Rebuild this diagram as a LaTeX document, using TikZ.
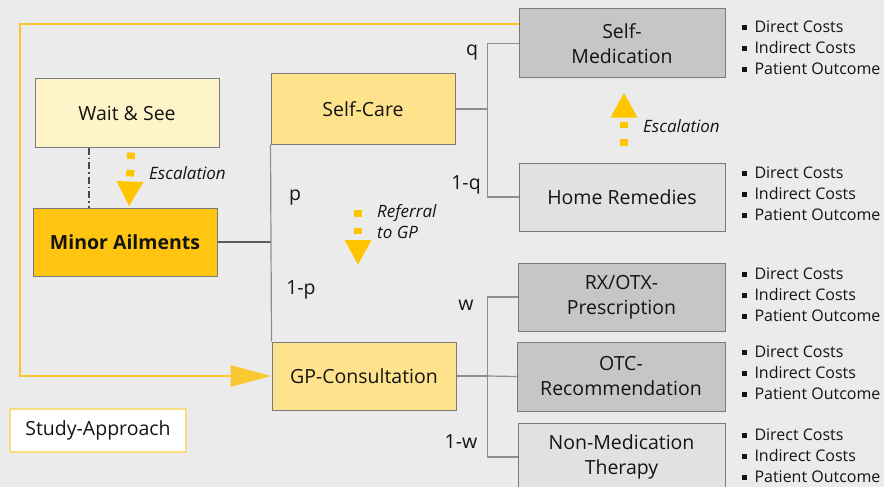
\documentclass[tikz,border=0pt]{standalone}
\usepackage{fontspec}
\setmainfont{Open Sans}
\usepackage{xcolor}
\usetikzlibrary{arrows.meta}

\definecolor{bggray}{HTML}{EBEBEB}
\definecolor{boxline}{HTML}{7A7A7A}
\definecolor{treeline}{HTML}{8E8E8E}
\definecolor{waitfill}{HTML}{FFF3C9}
\definecolor{minorfill}{HTML}{FFC510}
\definecolor{carefill}{HTML}{FFE38C}
\definecolor{darkfill}{HTML}{C6C6C6}
\definecolor{lightfill}{HTML}{E1E1E1}
\definecolor{studyline}{HTML}{F7C832}
\definecolor{studyframe}{HTML}{F8DC80}
\definecolor{escyellow}{HTML}{FFC600}
\definecolor{inktext}{HTML}{141414}

\newcommand{\sqbul}{\rule[0.2em]{0.27em}{0.27em}\hspace{0.5em}}
\newcommand{\costlist}{\sqbul Direct Costs\\\sqbul Indirect Costs\\\sqbul Patient Outcome}

\begin{document}
\begin{tikzpicture}[x=1pt, y=-1pt, text=inktext,
    box/.style={draw=boxline, line width=1pt, inner sep=0pt, align=center,
        minimum width=184pt, minimum height=68pt, font=\fontsize{19.5}{25}\selectfont},
    outcome/.style={box, minimum width=207pt},
    costs/.style={anchor=west, align=left, inner sep=0pt, font=\fontsize{16}{21}\selectfont},
    prob/.style={inner sep=0pt, font=\fontsize{19.5}{24}\selectfont},
    tree/.style={draw=treeline, line width=1.2pt},
    esc/.style={draw=escyellow, line width=8pt, dash pattern=on 6.5pt off 11pt,
        -{Triangle[length=25pt, width=25pt]}},
    esclabel/.style={inner sep=0pt, align=left, font=\fontsize{17}{21}\selectfont\itshape}]

    \fill[bggray] (0,0) rectangle (884,487);
    \useasboundingbox (0,0) rectangle (884,487);

    % decision nodes
    \node[box, fill=waitfill] (wait) at (127,113) {Wait \& See};
    \node[box, fill=minorfill, font=\fontsize{19.5}{25}\selectfont\bfseries] (minor) at (125,242) {Minor Ailments};
    \node[box, fill=carefill, minimum height=70pt] (selfcare) at (363,109) {Self-Care};
    \node[box, fill=carefill] (gp) at (364,376) {GP-Consultation};

    % outcomes
    \node[outcome, fill=darkfill, minimum width=206pt, minimum height=69pt] (selfmed) at (622,43.5) {Self-\\Medication};
    \node[outcome, fill=lightfill, minimum width=206pt] (home) at (622,197) {Home Remedies};
    \node[outcome, fill=darkfill] (rx) at (621.5,297) {RX/OTX-\\Prescription};
    \node[outcome, fill=darkfill, minimum width=208pt, minimum height=69pt] (otc) at (621,376.5) {OTC-\\Recommendation};
    \node[outcome, fill=lightfill] (nonmed) at (621.5,457) {Non-Medication\\Therapy};

    \node[costs] (selfmed-costs) at (742,48) {\costlist};
    \node[costs] (home-costs) at (742,194) {\costlist};
    \node[costs] (rx-costs) at (742,295) {\costlist};
    \node[costs] (otc-costs) at (742,373) {\costlist};
    \node[costs] (nonmed-costs) at (742,456) {\costlist};

    \node[box, fill=white, draw=studyframe, line width=1.5pt, minimum width=176pt, minimum height=43pt] (study) at (98,430.5) {Study-Approach};

    % tree
    \draw[draw=boxline!75!black, line width=1.5pt] (minor.east) -- (minor.east -| selfcare.west);
    \draw[tree] (selfcare.south west) -- (gp.north west);
    \draw[tree] (selfcare.east) -- ++(32,0) coordinate (care-fork);
    \draw[tree] (selfmed.west) -| (care-fork) |- (home.west);
    \draw[tree] (gp.east) -- ++(31,0) coordinate (gp-fork);
    \draw[tree] (rx.west) -| (gp-fork) |- (nonmed.west);
    \draw[tree] (gp-fork) -- (otc.west);

    \node[prob] (lbl-p) at (295,198) {p};
    \node[prob] (lbl-1p) at (301,290) {1-p};
    \node[prob] (lbl-q) at (472,53) {q};
    \node[prob] (lbl-1q) at (466,185) {1-q};
    \node[prob] (lbl-w) at (466,305) {w};
    \node[prob] (lbl-1w) at (461,442) {1-w};

    % wait & see link
    \draw[boxline!60!black, line width=1.3pt, dash pattern=on 7pt off 3pt on 1.5pt off 3pt] (wait.south -| 89,0) -- (minor.north -| 89,0);

    % study approach frame
    \coordinate (study-corner) at (20,24);
    \draw[studyline, line width=2.5pt, -{Triangle[length=41pt, width=21pt]}]
        (selfmed.west |- study-corner) -- (study-corner) |- (gp.west);

    % escalation and referral
    \draw[esc] ([xshift=4pt, yshift=-5pt]wait.south) -- ([xshift=4pt, yshift=1pt]minor.north);
    \node[esclabel, anchor=west] (esc-left) at (149,173) {Escalation};
    \draw[esc] ([xshift=2pt, yshift=17pt]home.north) -- ([xshift=2pt, yshift=-14pt]selfmed.south);
    \node[esclabel, anchor=west] (esc-right) at (643,126) {Escalation};
    \coordinate (ref-top) at (358,210);
    \coordinate (ref-tip) at (358,265);
    \draw[esc] (ref-top) -- (ref-tip);
    \node[esclabel, anchor=west] (ref-label) at (377,222) {Referral\\to GP};
\end{tikzpicture}
\end{document}
